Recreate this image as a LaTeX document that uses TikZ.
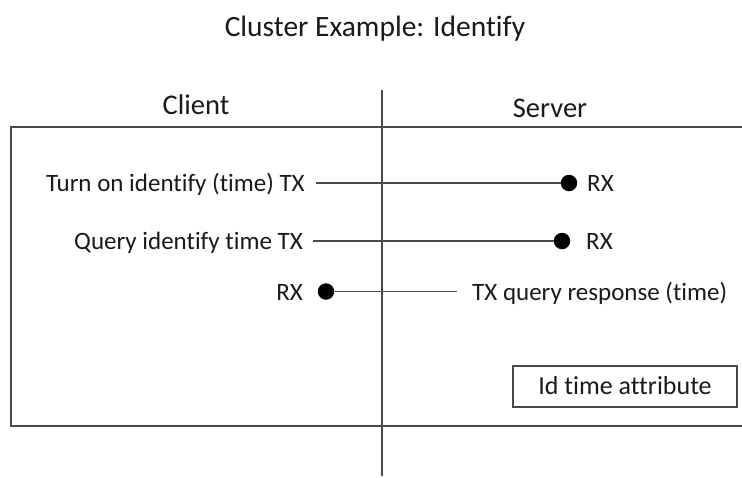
\documentclass[tikz,border=0pt]{standalone}
\usepackage{fontspec}
\setmainfont{Carlito}[Ligatures=CommonOff]
\definecolor{rule}{HTML}{4A4A4A}
\definecolor{ink}{HTML}{1A1A1A}
\begin{document}
\begin{tikzpicture}[x=1pt,y=-1pt,
  label/.style={inner sep=0pt, text=ink, font=\fontsize{25}{29}\selectfont},
  head/.style={inner sep=0pt, text=ink, font=\fontsize{28.5}{32}\selectfont},
  frame/.style={draw=rule, line width=2pt},
  wire/.style={draw=rule, line width=1.8pt},
  dot/.style={circle, fill=black, inner sep=0pt, minimum size=16.5pt},
  attrbox/.style={draw=rule, line width=1.5pt, inner sep=0pt, minimum width=224pt, minimum height=41pt}]
\useasboundingbox (0,0) rectangle (742,477);
\fill[white] (0,0) rectangle (742,477);

% title and column headers
\node[head, anchor=base, font=\fontsize{29.5}{33}\selectfont] (title) at (375,36.5) {Cluster Example: Identify};
\node[head, anchor=base] (client) at (196,114) {Client};
\node[head, anchor=base] (server) at (550,117) {Server};

% frame open to the right, and the client/server divider
\draw[frame] (745,127) -- (11,127) -- (11,426) -- (745,426);
\draw[frame] (382,90) -- (382,476);

% row 1
\node[label, anchor=base east] (t1) at (305,191.5) {Turn on identify (time) TX};
\node[dot] (d1) at (569,183) {};
\node[label, anchor=base west] (r1) at (587,191.5) {RX};
\draw[wire, shorten <=11pt] (t1.east |- d1) -- (d1);

% row 2
\node[label, anchor=base east] (t2) at (303,249.5) {Query identify time TX};
\node[dot] (d2) at (562,241) {};
\node[label, anchor=base west] (r2) at (586,249.5) {RX};
\draw[wire, shorten <=10pt] (t2.east |- d2) -- (d2);

% row 3
\node[label, anchor=base east] (r3) at (303,300) {RX};
\node[dot] (d3) at (326,291.5) {};
\node[label, anchor=base west] (t3) at (472,300) {TX query response (time)};
\draw[wire, shorten >=15pt] (d3) -- (t3.west |- d3);

% attribute box
\node[attrbox] (attr) at (625,386.5) {};
\node[label, anchor=base, font=\fontsize{26}{30}\selectfont] (attrtext) at (attr.center |- 0,394) {Id time attribute};
\end{tikzpicture}
\end{document}
